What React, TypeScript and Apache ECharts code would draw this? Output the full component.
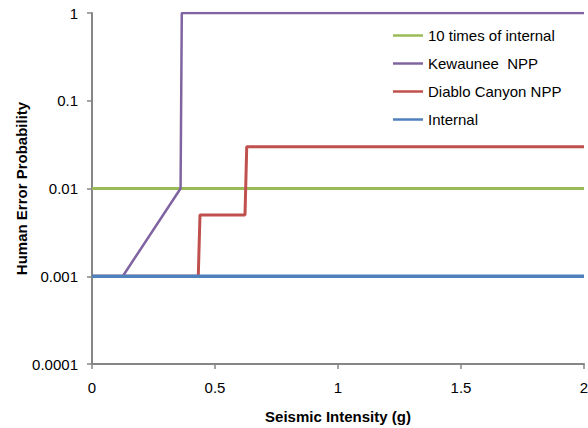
import React, { useEffect, useRef } from "react";
import * as echarts from "echarts";

const seriesNames = ["10 times of internal", "Kewaunee  NPP", "Diablo Canyon NPP", "Internal"];
const tenTimesInternal: [number, number][] = [[0, 0.01], [2, 0.01]];
const kewaunee: [number, number][] = [[0, 0.001], [0.125, 0.001], [0.36, 0.01], [0.365, 1], [2, 1]];
const diabloCanyon: [number, number][] = [[0, 0.001], [0.432, 0.001], [0.439, 0.005], [0.622, 0.005], [0.629, 0.03], [2, 0.03]];
const internal: [number, number][] = [[0, 0.001], [2, 0.001]];
const yTickLabels = ["0.0001", "0.001", "0.01", "0.1", "1"];
const xTickLabels = ["0", "0.5", "1", "1.5", "2"];
const colors = ["#9BBB59", "#8064A2", "#C0504D", "#4F81BD"];
const widths = [3, 2.5, 3, 3.5];

export default function App() {
  const ref = useRef<HTMLDivElement>(null);
  useEffect(() => {
    if (!ref.current) return;
    const chart = echarts.init(ref.current, undefined, { renderer: "svg" });
    const datasets = [tenTimesInternal, kewaunee, diabloCanyon, internal];
    const font = "Arial, 'Liberation Sans', sans-serif";
    chart.setOption({
      animation: false,
      textStyle: { fontFamily: font },
      grid: { left: 92, top: 13, right: 4, bottom: 64, containLabel: false, outerBoundsMode: "none" },
      legend: {
        orient: "vertical",
        left: 393,
        top: 27,
        padding: 0,
        icon: "rect",
        itemWidth: 30,
        itemHeight: 2.5,
        itemGap: 11,
        textStyle: { fontSize: 15, lineHeight: 17, color: "#000", fontFamily: font },
        data: seriesNames,
      },
      xAxis: {
        type: "value",
        min: 0,
        max: 2,
        interval: 0.5,
        name: "Seismic Intensity (g)",
        nameLocation: "middle",
        nameGap: 45,
        nameMoveOverlap: false,
        nameTextStyle: { fontSize: 15, fontWeight: "bold", color: "#000", fontFamily: font },
        axisLine: { lineStyle: { color: "#868686", width: 2 } },
        axisTick: { show: true, length: 5, lineStyle: { color: "#868686", width: 1.5 } },
        axisLabel: {
          margin: 16,
          fontSize: 15,
          color: "#000",
          fontFamily: font,
          formatter: (v: number) => xTickLabels[Math.round(v / 0.5)] ?? String(v),
        },
        splitLine: { show: false },
      },
      yAxis: {
        type: "log",
        logBase: 10,
        min: 0.0001,
        max: 1,
        name: "Human Error Probability",
        nameLocation: "middle",
        nameGap: 63,
        nameMoveOverlap: false,
        nameTextStyle: { fontSize: 15, fontWeight: "bold", color: "#000", fontFamily: font },
        axisLine: { show: true, lineStyle: { color: "#868686", width: 2 } },
        axisTick: { show: true, length: 5, lineStyle: { color: "#868686", width: 1.5 } },
        axisLabel: {
          margin: 14,
          fontSize: 15,
          color: "#000",
          fontFamily: font,
          formatter: (v: number) => yTickLabels[Math.round(Math.log10(v)) + 4] ?? String(v),
        },
        splitLine: { show: false },
      },
      series: datasets.map((d, i) => ({
        name: seriesNames[i],
        type: "line",
        data: d,
        symbol: "none",
        color: colors[i],
        lineStyle: { color: colors[i], width: widths[i] },
        z: 2 + i,
      })),
    });
    return () => chart.dispose();
  }, []);
  return <div ref={ref} style={{ width: 588, height: 428, position: "absolute", left: 0, top: 0 }} />;
}
